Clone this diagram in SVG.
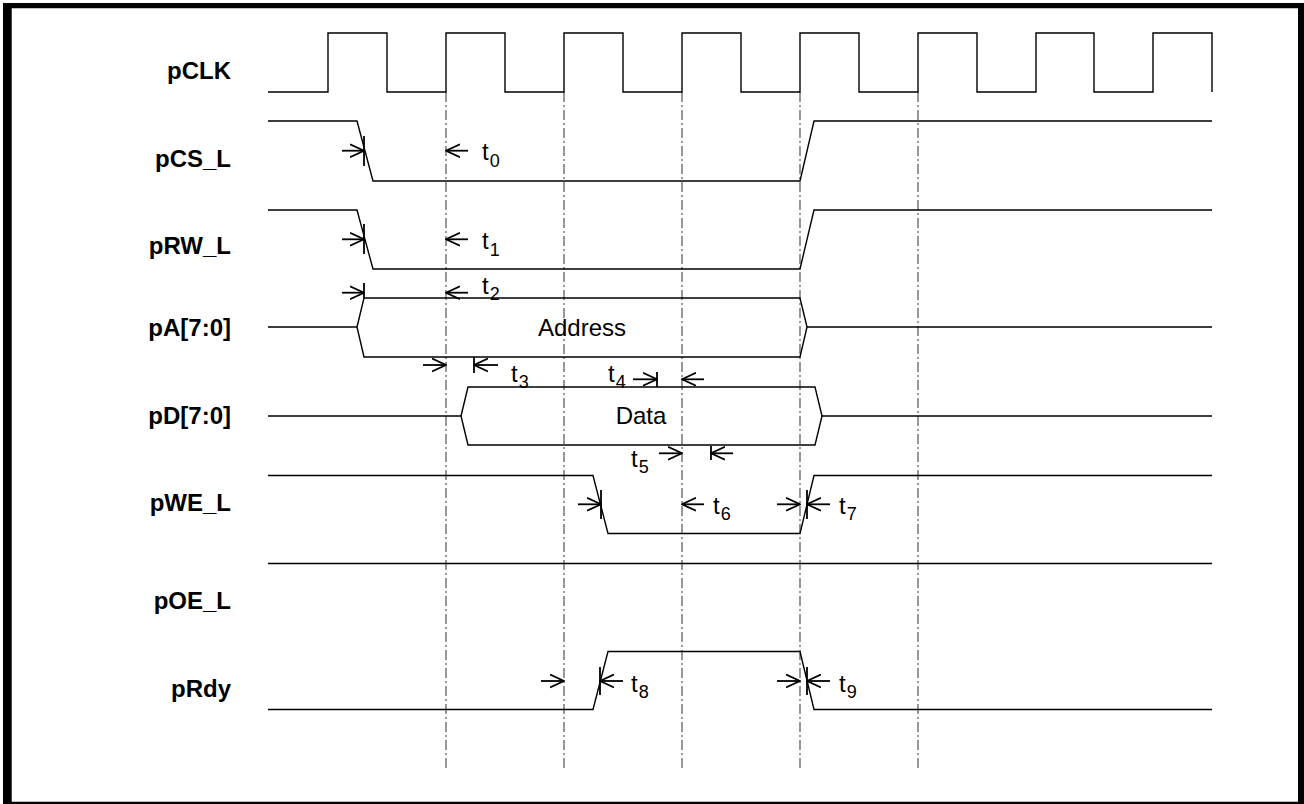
<svg xmlns="http://www.w3.org/2000/svg" width="1304" height="804" viewBox="0 0 1304 804">
<style>
.sig{fill:none;stroke:#000;stroke-width:1.4}
.guide{fill:none;stroke:#444;stroke-width:1.1;stroke-dasharray:10 3 2 3}
.arr{fill:none;stroke:#000;stroke-width:1.8;marker-end:url(#ah)}
.tick{fill:none;stroke:#000;stroke-width:1.8}
.lbl{font-family:"Liberation Sans",Arial,sans-serif;font-weight:bold;font-size:24px;text-anchor:end;fill:#000}
.bus{font-family:"Liberation Sans",Arial,sans-serif;font-size:24px;text-anchor:middle;fill:#000}
.t{font-family:"Liberation Sans",Arial,sans-serif;font-size:24px;fill:#000}
.sub{font-size:18px}
</style>
<defs>
<marker id="ah" viewBox="0 0 15 15" refX="14" refY="7.5" markerWidth="15" markerHeight="15" markerUnits="userSpaceOnUse" orient="auto">
<path d="M0,1 L14,7.5 L0,14" fill="none" stroke="#000" stroke-width="1.8"/>
</marker>
</defs>
<rect width="1304" height="804" fill="#fff"/>
<path d="M3,3 H1304 V804 H3 Z M11.7,8.3 V801.7 H1298 V8.3 Z" fill="#000" fill-rule="evenodd"/>

<g id="guides">
<line class="guide" x1="446" y1="92" x2="446" y2="770"/>
<line class="guide" x1="564" y1="92" x2="564" y2="770"/>
<line class="guide" x1="682" y1="92" x2="682" y2="770"/>
<line class="guide" x1="800" y1="92" x2="800" y2="770"/>
<line class="guide" x1="918" y1="92" x2="918" y2="770"/>
</g>

<g id="pCLK">
<text class="lbl" x="231" y="79">pCLK</text>
<path class="sig" d="M268,92 H328 V33 H387 V92 H446 V33 H505 V92 H564 V33 H623 V92 H682 V33 H741 V92 H800 V33 H859 V92 H918 V33 H977 V92 H1036 V33 H1094 V92 H1153 V33 H1212 V92"/>
</g>
<g id="pCS_L">
<text class="lbl" x="231" y="167">pCS_L</text>
<path class="sig" d="M268,121 H357 L373,181 H800 L814,121 H1212"/>
</g>
<g id="pRW_L">
<text class="lbl" x="231" y="254">pRW_L</text>
<path class="sig" d="M268,210 H357 L373,269 H800 L814,210 H1212"/>
</g>
<g id="pA">
<text class="lbl" x="231" y="336">pA[7:0]</text>
<path class="sig" d="M268,327 H357 M1212,327 H807"/>
<path class="sig" d="M357,327 L364,298 H800 L807,327 L800,357 H364 Z"/>
<text class="bus" x="582" y="336">Address</text>
</g>
<g id="pD">
<text class="lbl" x="231" y="424">pD[7:0]</text>
<path class="sig" d="M268,416 H461 M1212,416 H822"/>
<path class="sig" d="M461,416 L468,387 H815 L822,416 L815,445 H468 Z"/>
<text class="bus" x="641" y="424">Data</text>
</g>
<g id="pWE_L">
<text class="lbl" x="231" y="511">pWE_L</text>
<path class="sig" d="M268,475.5 H593 L608,533.5 H800 L814,475.5 H1212"/>
</g>
<g id="pOE_L">
<text class="lbl" x="231" y="609">pOE_L</text>
<path class="sig" d="M268,563.5 H1212"/>
</g>
<g id="pRdy">
<text class="lbl" x="231" y="697">pRdy</text>
<path class="sig" d="M268,709.5 H593 L608,651.5 H800 L814,709.5 H1212"/>
</g>

<g id="connectors">
<line class="arr" x1="342" y1="150.7" x2="364" y2="150.7"/>
<line class="tick" x1="364" y1="136" x2="364" y2="166"/>
<line class="arr" x1="468" y1="150.7" x2="446" y2="150.7"/>

<line class="arr" x1="342" y1="239.3" x2="364" y2="239.3"/>
<line class="tick" x1="364" y1="224" x2="364" y2="254"/>
<line class="arr" x1="468" y1="239.3" x2="446" y2="239.3"/>

<line class="arr" x1="342" y1="292.7" x2="364" y2="292.7"/>
<line class="tick" x1="364" y1="283" x2="364" y2="298"/>
<line class="arr" x1="468" y1="292.7" x2="446" y2="292.7"/>

<line class="arr" x1="423" y1="365" x2="446" y2="365"/>
<line class="arr" x1="498" y1="365" x2="474" y2="365"/>
<line class="tick" x1="474" y1="357" x2="474" y2="373"/>

<line class="arr" x1="633" y1="379.3" x2="657" y2="379.3"/>
<line class="tick" x1="657" y1="372" x2="657" y2="387"/>
<line class="arr" x1="704" y1="379.3" x2="682" y2="379.3"/>

<line class="arr" x1="659" y1="453.3" x2="682" y2="453.3"/>
<line class="arr" x1="733" y1="453.3" x2="711" y2="453.3"/>
<line class="tick" x1="711" y1="446" x2="711" y2="460"/>

<line class="arr" x1="578" y1="504.3" x2="601" y2="504.3"/>
<line class="tick" x1="601" y1="490" x2="601" y2="519"/>
<line class="arr" x1="704" y1="504.3" x2="682" y2="504.3"/>

<line class="arr" x1="777" y1="504.3" x2="800" y2="504.3"/>
<line class="arr" x1="830" y1="504.3" x2="807" y2="504.3"/>
<line class="tick" x1="807" y1="490" x2="807" y2="519"/>

<line class="arr" x1="541" y1="681" x2="564" y2="681"/>
<line class="arr" x1="623" y1="681" x2="600" y2="681"/>
<line class="tick" x1="600" y1="667" x2="600" y2="695"/>

<line class="arr" x1="777" y1="681" x2="800" y2="681"/>
<line class="arr" x1="830" y1="681" x2="807" y2="681"/>
<line class="tick" x1="807" y1="667" x2="807" y2="695"/>
</g>

<g id="timing-labels">
<text class="t" x="482" y="160">t<tspan class="sub" dx="1" dy="7">0</tspan></text>
<text class="t" x="482" y="249">t<tspan class="sub" dx="1" dy="7">1</tspan></text>
<text class="t" x="482" y="294">t<tspan class="sub" dx="1" dy="6">2</tspan></text>
<text class="t" x="511" y="382">t<tspan class="sub" dx="1" dy="6">3</tspan></text>
<text class="t" x="608" y="382">t<tspan class="sub" dx="1" dy="6">4</tspan></text>
<text class="t" x="631" y="467">t<tspan class="sub" dx="1" dy="6">5</tspan></text>
<text class="t" x="713" y="514">t<tspan class="sub" dx="1" dy="6">6</tspan></text>
<text class="t" x="839" y="514">t<tspan class="sub" dx="1" dy="6">7</tspan></text>
<text class="t" x="631" y="692">t<tspan class="sub" dx="1" dy="6">8</tspan></text>
<text class="t" x="839" y="692">t<tspan class="sub" dx="1" dy="6">9</tspan></text>
</g>
</svg>
